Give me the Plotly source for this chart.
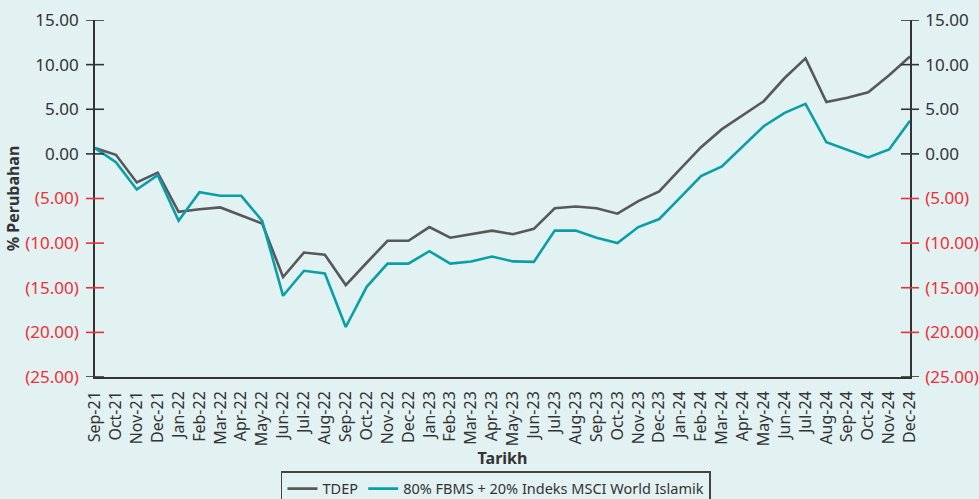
import plotly.graph_objects as go

months = ["Sep-21","Oct-21","Nov-21","Dec-21","Jan-22","Feb-22","Mar-22","Apr-22","May-22","Jun-22",
          "Jul-22","Aug-22","Sep-22","Oct-22","Nov-22","Dec-22","Jan-23","Feb-23","Mar-23","Apr-23",
          "May-23","Jun-23","Jul-23","Aug-23","Sep-23","Oct-23","Nov-23","Dec-23","Jan-24","Feb-24",
          "Mar-24","Apr-24","May-24","Jun-24","Jul-24","Aug-24","Sep-24","Oct-24","Nov-24","Dec-24"]

tdep = [0.65, -0.1, -3.2, -2.1, -6.5, -6.2, -6.0, -6.9, -7.8, -13.8,
        -11.05, -11.3, -14.7, -12.2, -9.74, -9.74, -8.2, -9.4, -8.96, -8.6,
        -9.0, -8.4, -6.1, -5.9, -6.1, -6.7, -5.3, -4.2, -1.7, 0.75,
        2.77, 4.37, 5.9, 8.5, 10.7, 5.8, 6.3, 6.9, 8.8, 10.9]

bench = [0.65, -0.93, -4.0, -2.4, -7.5, -4.3, -4.7, -4.7, -7.5, -15.9,
         -13.1, -13.4, -19.4, -14.9, -12.3, -12.3, -10.9, -12.3, -12.05, -11.5,
         -12.05, -12.1, -8.6, -8.6, -9.4, -10.0, -8.2, -7.3, -4.9, -2.5,
         -1.4, 0.8, 3.1, 4.6, 5.6, 1.3, 0.45, -0.4, 0.5, 3.7]

ytick_vals = [15, 10, 5, 0, -5, -10, -15, -20, -25]
ytick_text = ["15.00", "10.00", "5.00", "0.00", "(5.00)", "(10.00)", "(15.00)", "(20.00)", "(25.00)"]

BG = "#e2f1f2"
DARK = "#333333"
RED = "#ee2f36"
GRAY_LINE = "#58585a"
TEAL = "#0a9ea7"
FONT = "Noto Sans"

def colored(v, t):
    c = RED if v < 0 else DARK
    return f'<span style="color:{c}">{t}</span>'

ticktext = [colored(v, t) for v, t in zip(ytick_vals, ytick_text)]

fig = go.Figure()
fig.add_trace(go.Scatter(x=months, y=tdep, mode="lines", name="TDEP",
                         line=dict(color=GRAY_LINE, width=2.6)))
fig.add_trace(go.Scatter(x=months, y=bench, mode="lines",
                         name="80% FBMS + 20% Indeks MSCI World Islamik",
                         line=dict(color=TEAL, width=2.6)))
# invisible trace to activate the right axis
fig.add_trace(go.Scatter(x=months, y=tdep, yaxis="y2", mode="lines", opacity=0,
                         showlegend=False, hoverinfo="skip", line=dict(width=0)))

plot_w = 815.0
half = 9.0 / plot_w
shapes = []
for v in ytick_vals:
    c = RED if (v < 0 and v != -25) else DARK
    for xc in (0.0, 1.0):
        shapes.append(dict(type="line", xref="paper", yref="y", x0=xc - half, x1=xc + half,
                           y0=v, y1=v, line=dict(color=c, width=1.6), layer="above"))

yax = dict(range=[-25, 15], tickvals=ytick_vals, ticktext=ticktext, ticks="",
           showgrid=False, zeroline=False, showline=True, linecolor=DARK, linewidth=1.6,
           tickfont=dict(family=FONT, size=17, color=DARK), ticklabelstandoff=11,
           fixedrange=True, automargin=False)

fig.update_layout(
    width=979, height=499,
    margin=dict(l=95, r=69, t=20, b=122, autoexpand=False),
    paper_bgcolor=BG, plot_bgcolor=BG,
    font=dict(family=FONT, color=DARK),
    xaxis=dict(tickangle=-90, showgrid=False, zeroline=False, showline=True, linecolor=DARK,
               linewidth=1.6, ticks="", tickfont=dict(family=FONT, size=16, color=DARK),
               range=[0, 39], ticklabelstandoff=6, automargin=False, fixedrange=True,
               title=dict(text="<b>Tarikh</b>", font=dict(family=FONT, size=16, color=DARK), standoff=7)),
    yaxis=dict(**yax, side="left",
               title=dict(text="<b>% Perubahan</b>", font=dict(family=FONT, size=16, color=DARK), standoff=2)),
    yaxis2=dict(**{**yax, "ticklabelstandoff": 10}, side="right", overlaying="y"),
    shapes=shapes,
    showlegend=True,
    legend=dict(orientation="h", x=0.492, xanchor="center", y=-0.264, yanchor="top",
                bgcolor=BG, bordercolor="#444444", borderwidth=1.5,
                font=dict(family=FONT, size=14.5, color=DARK)),
)

fig.write_html("out.html", config={"displayModeBar": False},
               post_script="document.body.style.margin='0';document.body.style.overflow='hidden';")
